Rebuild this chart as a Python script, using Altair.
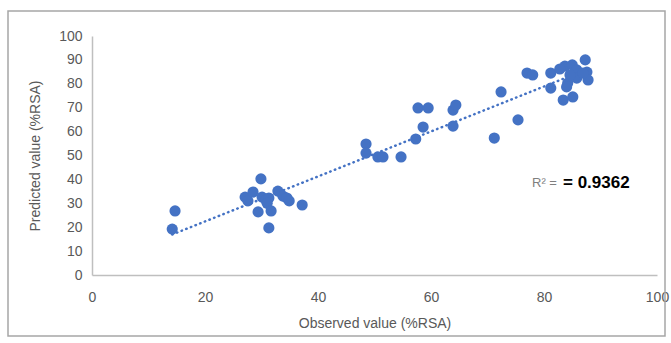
import altair as alt
import pandas as pd

observed = [14.7, 14.2, 29.9, 27.1, 27.6, 28.5, 30.1, 30.8, 31.3, 31.0, 32.9, 33.8, 34.5, 34.9, 37.2,
            29.4, 31.7, 31.3, 48.5, 48.5, 50.6, 51.5, 54.7, 57.3, 58.6, 57.7, 59.5, 63.9, 64.4, 63.9,
            71.2, 72.4, 75.4, 77.0, 78.0, 81.2, 81.2, 83.4, 85.1, 84.2, 84.0, 83.7, 82.8, 85.0, 85.8,
            87.3, 87.6, 87.8, 85.8, 86.9, 84.6]
predicted = [26.8, 19.2, 40.2, 32.6, 31.0, 34.7, 32.6, 31.4, 32.2, 30.0, 35.1, 33.0, 32.2, 31.0, 29.3,
             26.4, 26.8, 19.7, 54.8, 51.0, 49.4, 49.4, 49.4, 56.9, 61.9, 69.9, 69.9, 69.0, 71.1, 62.3,
             57.3, 76.6, 64.9, 84.5, 83.7, 84.5, 78.2, 73.2, 74.5, 80.3, 78.7, 87.4, 86.2, 87.9, 85.8,
             90.0, 84.9, 81.6, 82.4, 84.5, 83.7]
x_ticks = [0, 20, 40, 60, 80, 100]
y_ticks = [0, 10, 20, 30, 40, 50, 60, 70, 80, 90, 100]
r2_prefix = "R² = "
r2_value = "= 0.9362"

df = pd.DataFrame({"obs": observed, "pred": predicted})

FONT = "Liberation Sans"
BLUE = "#4472C4"
GRAY = "#595959"

xaxis = alt.Axis(values=x_ticks, title="Observed value (%RSA)", grid=False, ticks=False,
                 domainColor="#bfbfbf", domainWidth=1.5, labelColor=GRAY, labelFontSize=14,
                 labelFont=FONT, labelPadding=15, titleFont=FONT, titleFontSize=14,
                 titleFontWeight="normal", titleColor=GRAY, titlePadding=12, labelFlush=False,
                 labelOverlap=False)
yaxis = alt.Axis(values=y_ticks, title="Predicted value (%RSA)", grid=False, ticks=False,
                 domainColor="#bfbfbf", domainWidth=1.5, labelColor=GRAY, labelFontSize=14,
                 labelFont=FONT, labelPadding=10, titleFont=FONT, titleFontSize=14,
                 titleFontWeight="normal", titleColor=GRAY, titlePadding=16, labelFlush=False,
                 labelOverlap=False)

def xenc():
    return alt.X("obs:Q", scale=alt.Scale(domain=[0, 100], nice=False), axis=xaxis)

def yenc():
    return alt.Y("pred:Q", scale=alt.Scale(domain=[0, 100], nice=False), axis=yaxis)

base = alt.Chart(df)

points = base.mark_circle(size=125, color=BLUE, opacity=1).encode(x=xenc(), y=yenc())

trend = base.transform_regression("obs", "pred").mark_line(
    color=BLUE, strokeWidth=2.5, strokeDash=[0.5, 4.5], strokeCap="round"
).encode(x=xenc(), y=yenc())

frame = alt.Chart(pd.DataFrame({"a": [0]})).mark_rect(
    fill=None, stroke="#a6a6a6", strokeWidth=1.5, clip=False
).encode(x=alt.value(-84), x2=alt.value(573), y=alt.value(-25), y2=alt.value(300))

lbl1 = alt.Chart(pd.DataFrame({"t": [r2_prefix]})).mark_text(
    align="left", baseline="middle", font=FONT, fontSize=13, color="#7f7f7f"
).encode(text="t:N", x=alt.value(440), y=alt.value(147))

lbl2 = alt.Chart(pd.DataFrame({"t": [r2_value]})).mark_text(
    align="left", baseline="middle", font=FONT, fontSize=17, fontWeight="bold", color="#000000"
).encode(text="t:N", x=alt.value(471), y=alt.value(147))

chart = alt.layer(frame, trend, points, lbl1, lbl2).properties(
    width=565, height=239,
    padding={"left": 92, "top": 36, "right": 14, "bottom": 68},
    autosize=alt.AutoSizeParams(type="none"),
    background="white",
).configure_view(stroke=None)

chart.save("out.html", embed_options={"renderer": "svg", "actions": False})
